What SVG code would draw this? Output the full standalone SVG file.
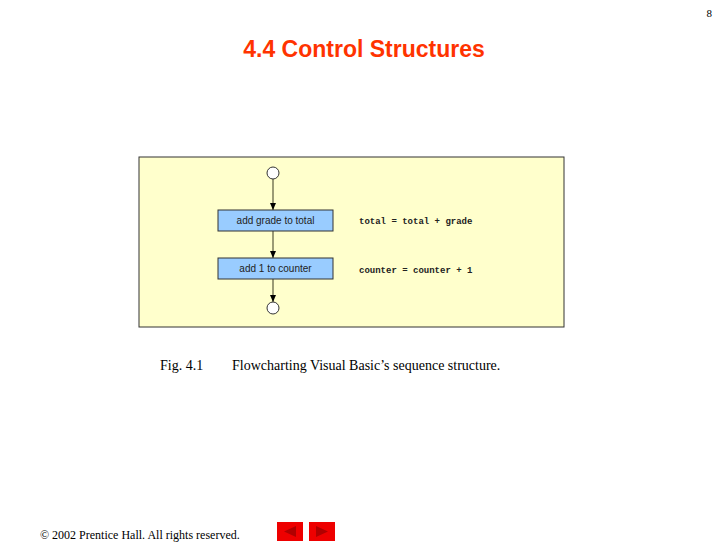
<svg xmlns="http://www.w3.org/2000/svg" width="728" height="546" viewBox="0 0 728 546">
<style>
.box{fill:#99ccff;stroke:#333;stroke-width:1}
.bt{font-family:"Liberation Sans",Arial,sans-serif;font-size:10px;fill:#222;text-anchor:middle}
.code{font-family:"Liberation Mono",monospace;font-size:9px;font-weight:bold;fill:#222}
.c{fill:#fff;stroke:#333;stroke-width:1}
.ln{stroke:#7a7a5a;stroke-width:1.5;fill:none;marker-end:url(#a)}
.serif{font-family:"Liberation Serif",serif;fill:#000}
</style>
<defs><marker id="a" markerWidth="8" markerHeight="8" refX="7" refY="4" orient="auto" markerUnits="userSpaceOnUse"><path d="M0,1 L7,4 L0,7 Z" fill="#000"/></marker></defs>
<rect width="728" height="546" fill="#fff"/>
<text x="712" y="17" class="serif" font-size="11" text-anchor="end">8</text>
<text x="364" y="57" font-family="Liberation Sans,Arial,sans-serif" font-weight="bold" font-size="23" fill="#ff3300" text-anchor="middle">4.4 Control Structures</text>
<rect x="139" y="157" width="425" height="170" fill="#ffffcc" stroke="#333"/>
<g id="connectors">
<line class="ln" x1="273" y1="179" x2="273" y2="210"/>
<line class="ln" x1="273" y1="231" x2="273" y2="258"/>
<line class="ln" x1="273" y1="279" x2="273" y2="302"/>
</g>
<g id="start"><circle class="c" cx="273" cy="173" r="6"/></g>
<g id="n1"><rect class="box" x="218" y="210" width="115" height="21"/><text class="bt" x="275.5" y="224">add grade to total</text></g>
<g id="n2"><rect class="box" x="218" y="258" width="115" height="21"/><text class="bt" x="275.5" y="272">add 1 to counter</text></g>
<g id="end"><circle class="c" cx="273" cy="308" r="6"/></g>
<text class="code" x="359" y="224">total = total + grade</text>
<text class="code" x="359" y="273">counter = counter + 1</text>
<text class="serif" x="160" y="370" font-size="14">Fig. 4.1</text>
<text class="serif" x="232" y="370" font-size="14">Flowcharting Visual Basic’s sequence structure.</text>
<text class="serif" x="40" y="539" font-size="12">© 2002 Prentice Hall.  All rights reserved.</text>
<rect x="277" y="522" width="26" height="19" fill="#ee0000"/>
<path d="M284,531.5 L296,526 L296,537 Z" fill="#b00000"/>
<rect x="309" y="522" width="26" height="19" fill="#ee0000"/>
<path d="M328,531.5 L316,526 L316,537 Z" fill="#b00000"/>
</svg>
